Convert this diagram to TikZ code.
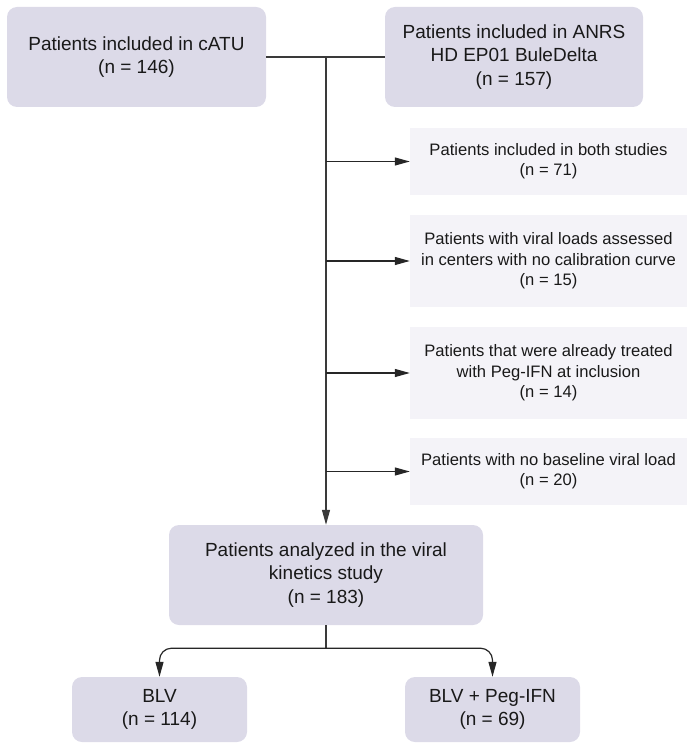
\documentclass[tikz,border=0pt]{standalone}
\usepackage{fontspec}
\setmainfont{Liberation Sans}
\usetikzlibrary{arrows.meta}

\definecolor{boxfill}{HTML}{DCDAE8}
\definecolor{exclfill}{HTML}{F4F3F8}
\definecolor{linegray}{HTML}{3A3A3A}

\tikzset{
  mainbox/.style={fill=boxfill, rounded corners=10pt, align=center, inner sep=0pt,
    font=\fontsize{19}{23.3}\selectfont, text=black!90},
  exclbox/.style={fill=exclfill, align=center, inner sep=0pt,
    font=\fontsize{16.6}{20.3}\selectfont, text=black!90},
  arrow/.style={-{Triangle[length=15pt,width=8pt]}, line width=1.2pt, draw=black!85},
  joinline/.style={line width=1.2pt, draw=linegray}
}

\begin{document}
\begin{tikzpicture}[x=1pt,y=-1pt]

\useasboundingbox (0,0) rectangle (692,751);

\node(catu)[mainbox, minimum width=259pt, minimum height=100pt] at (136.5,57) {Patients included in cATU\\(n = 146)};
\node(anrs)[mainbox, minimum width=258pt, minimum height=100pt] at (514,57) {Patients included in ANRS\\HD EP01 BuleDelta\\(n = 157)};

\node(both)[exclbox, minimum width=277pt, minimum height=67pt] at (548.5,161.5) {Patients included in both studies\\(n = 71)};
\node(nocurve)[exclbox, minimum width=277pt, minimum height=92pt] at (548.5,261) {Patients with viral loads assessed\\in centers with no calibration curve\\(n = 15)};
\node(pegifn)[exclbox, minimum width=277pt, minimum height=92pt] at (548.5,373) {Patients that were already treated\\with Peg-IFN at inclusion\\(n = 14)};
\node(nobase)[exclbox, minimum width=277pt, minimum height=67pt] at (548.5,471.5) {Patients with no baseline viral load\\(n = 20)};

\node(analyzed)[mainbox, minimum width=314pt, minimum height=100pt] at (326,575) {Patients analyzed in the viral\\kinetics study\\(n = 183)};

\node(blv)[mainbox, minimum width=175pt, minimum height=65pt] at (159.5,709.5) {BLV\\(n = 114)};
\node(blvpeg)[mainbox, minimum width=175pt, minimum height=65pt] at (492.5,709.5) {BLV + Peg-IFN\\(n = 69)};

\coordinate(junction) at (analyzed.north |- catu.east);
\coordinate(split) at ([yshift=-23pt]analyzed.south);

\draw[joinline] (catu.east) -- (anrs.west);
\draw[arrow, draw=linegray] (junction) -- (analyzed.north);

\foreach \excl in {both, nocurve, pegifn, nobase}
  \draw[arrow] (\excl.west -| junction) -- (\excl.west);

\draw[joinline] (analyzed.south) -- (split);
\draw[arrow, rounded corners=12pt] (split) -| (blv.north);
\draw[arrow, rounded corners=12pt] (split) -| (blvpeg.north);

\end{tikzpicture}
\end{document}
